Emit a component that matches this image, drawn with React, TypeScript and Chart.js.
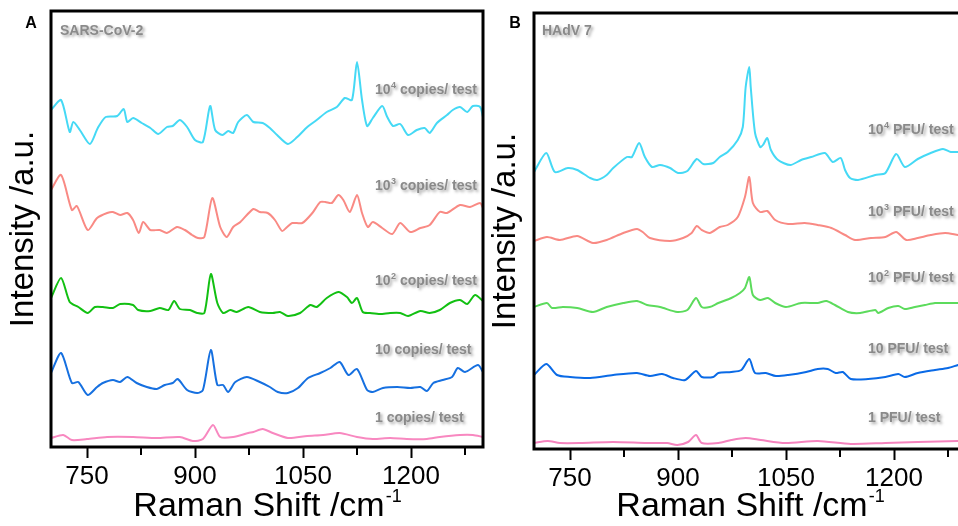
import React, { useEffect, useRef } from "react";
import { Chart, registerables } from "chart.js";

Chart.register(...registerables);

type Pt = [number, number];

// ---------- Data (Raman shift cm^-1, intensity a.u. offset) ----------
const X_MIN = 700;
const X_MAX = 1300;
const MAJOR_TICKS = [750, 900, 1050, 1200];
const MINOR_TICKS = [825, 975, 1125, 1275];

// Panel A: SARS-CoV-2
const A_1e4: Pt[] = [[700,337],[714,347],[726,315],[731,325],[740,317],[754,303],[765,319],[776,330],[792,331],[801,338],[806,325],[814,329],[826,324],[838,319],[849,313],[861,320],[869,321],[879,327],[889,320],[900,307],[911,305],[921,341],[928,317],[938,312],[946,316],[953,314],[960,325],[972,332],[981,325],[994,324],[1004,319],[1014,312],[1029,303],[1042,310],[1056,320],[1069,327],[1083,335],[1097,340],[1108,349],[1118,347],[1125,385],[1132,347],[1139,321],[1147,329],[1160,341],[1167,330],[1175,321],[1185,323],[1196,312],[1208,317],[1219,319],[1226,314],[1236,324],[1250,332],[1258,337],[1268,340],[1278,335],[1286,341],[1296,340],[1300,330]];
const A_1e3: Pt[] = [[700,257],[714,272],[729,237],[736,241],[751,217],[764,229],[778,234],[786,235],[796,232],[806,234],[814,227],[822,214],[828,225],[838,217],[851,217],[861,214],[875,220],[886,217],[896,212],[904,209],[913,210],[924,249],[935,220],[944,210],[953,220],[963,225],[981,238],[990,235],[1001,234],[1011,227],[1021,216],[1028,220],[1035,224],[1049,224],[1063,234],[1074,245],[1081,245],[1090,244],[1099,252],[1106,247],[1115,235],[1125,252],[1132,234],[1140,220],[1147,225],[1160,219],[1174,213],[1185,224],[1199,215],[1213,219],[1226,222],[1240,235],[1250,234],[1268,242],[1282,240],[1296,244],[1300,239]];
const A_1e2: Pt[] = [[700,149],[714,169],[726,145],[738,140],[751,134],[761,140],[772,140],[786,139],[796,143],[814,142],[821,137],[838,136],[851,139],[863,137],[871,146],[879,138],[893,137],[903,134],[913,134],[922,173],[931,144],[939,134],[949,137],[958,135],[974,140],[990,135],[1008,134],[1018,135],[1029,131],[1046,134],[1060,142],[1069,140],[1083,149],[1099,155],[1111,150],[1118,144],[1125,149],[1133,135],[1143,134],[1157,133],[1171,134],[1185,134],[1196,131],[1213,136],[1226,134],[1240,137],[1254,144],[1268,147],[1278,143],[1289,152],[1300,146]];
const A_1e1: Pt[] = [[700,74],[714,94],[729,64],[738,65],[751,52],[764,60],[772,64],[786,67],[796,65],[806,70],[819,64],[833,60],[847,58],[858,62],[869,64],[876,68],[889,57],[903,54],[911,57],[922,97],[931,62],[939,62],[946,55],[956,65],[972,70],[990,65],[1004,60],[1015,55],[1029,54],[1043,59],[1057,69],[1074,74],[1088,79],[1101,85],[1113,72],[1125,78],[1139,57],[1147,55],[1161,59],[1181,60],[1199,59],[1213,60],[1222,56],[1231,64],[1244,67],[1257,70],[1265,79],[1275,75],[1293,82],[1300,75]];
const A_1e0: Pt[] = [[700,9],[717,12],[729,7],[750,8],[778,10],[814,10],[847,9],[879,10],[897,6],[911,8],[925,22],[935,10],[953,10],[974,14],[981,15],[994,18],[1008,14],[1029,9],[1056,11],[1078,12],[1101,14],[1125,10],[1147,8],[1171,9],[1194,8],[1222,8],[1240,10],[1268,12],[1286,12],[1300,10]];

// Panel B: HAdV 7
const B_1e4: Pt[] = [[700,277],[717,296],[729,277],[747,281],[760,279],[778,271],[788,269],[801,274],[810,281],[829,292],[836,292],[846,306],[854,292],[864,282],[875,284],[889,281],[900,276],[913,278],[926,290],[935,285],[949,286],[958,292],[969,297],[983,309],[990,322],[994,362],[999,382],[1001,362],[1007,316],[1014,302],[1018,304],[1024,311],[1029,299],[1039,289],[1056,284],[1071,289],[1085,292],[1104,296],[1115,287],[1126,291],[1132,279],[1139,271],[1150,269],[1174,274],[1188,276],[1203,295],[1215,282],[1233,290],[1251,296],[1268,300],[1279,297],[1289,297],[1300,296]];
const B_1e3: Pt[] = [[700,208],[718,212],[736,209],[760,213],[782,206],[801,209],[824,216],[843,220],[851,217],[861,211],[889,208],[907,211],[919,216],[926,223],[933,219],[944,216],[958,222],[969,224],[983,232],[993,252],[999,272],[1004,246],[1014,237],[1024,238],[1035,229],[1053,225],[1076,226],[1094,224],[1113,221],[1132,214],[1146,209],[1168,211],[1188,212],[1203,217],[1217,209],[1233,211],[1251,214],[1271,216],[1289,214],[1300,213]];
const B_1e2: Pt[] = [[700,142],[718,146],[725,141],[740,142],[760,141],[782,137],[801,142],[824,146],[843,148],[857,144],[875,142],[899,137],[913,139],[925,151],[933,142],[944,142],[956,146],[974,151],[986,156],[993,161],[999,172],[1004,154],[1014,149],[1025,151],[1035,146],[1050,142],[1071,146],[1094,146],[1106,148],[1118,144],[1136,137],[1153,136],[1174,139],[1178,136],[1192,141],[1206,143],[1215,140],[1229,142],[1243,144],[1257,146],[1275,146],[1289,146],[1300,147]];
const B_1e1: Pt[] = [[700,74],[717,85],[732,74],[750,72],[778,71],[810,74],[843,76],[861,73],[878,75],[893,71],[910,69],[925,78],[933,72],[949,72],[956,76],[974,77],[988,79],[999,90],[1007,76],[1022,76],[1036,73],[1053,74],[1078,77],[1094,80],[1108,80],[1119,76],[1129,77],[1140,70],[1164,70],[1188,72],[1206,75],[1215,72],[1233,76],[1257,79],[1275,81],[1289,84],[1300,86]];
const B_1e0: Pt[] = [[700,6],[719,8],[736,6],[764,6],[810,7],[857,6],[885,6],[899,4],[914,7],[925,14],[933,6],[956,6],[974,9],[994,11],[1015,9],[1049,6],[1094,8],[1140,5],[1188,6],[1233,7],[1289,8],[1300,8]];

// Labels
const A_TITLE = "SARS-CoV-2";
const B_TITLE = "HAdV 7";
const LABEL_BASES = ["10", "10", "10", "10", "1"];
const LABEL_EXPS = ["4", "3", "2", "", ""];
const A_UNIT = " copies/ test";
const B_UNIT = " PFU/ test";

const FONT = '"Liberation Sans", Arial, Helvetica, sans-serif';

interface PanelSpec {
  letter: string;
  title: string;
  unit: string;
  series: Pt[][];
  colors: string[];
  canvasLeft: number;
  canvasWidth: number;
  padding: { left: number; right: number; top: number; bottom: number };
  yTitleX: number;
  letterX: number;
  titleX: number;
  labelX: number;
  labelYs: number[];
}

const PANELS: PanelSpec[] = [
  {
    letter: "A",
    title: A_TITLE,
    unit: A_UNIT,
    series: [A_1e4, A_1e3, A_1e2, A_1e1, A_1e0],
    colors: ["#45D9F5", "#F98A84", "#12C012", "#1670E0", "#F888C0"],
    canvasLeft: 0,
    canvasWidth: 500,
    padding: { left: 51, right: 17, top: 11, bottom: 39 },
    yTitleX: 24,
    letterX: 31,
    titleX: 60,
    labelX: 375,
    labelYs: [90, 186, 281, 350, 418],
  },
  {
    letter: "B",
    title: B_TITLE,
    unit: B_UNIT,
    series: [B_1e4, B_1e3, B_1e2, B_1e1, B_1e0],
    colors: ["#45D9F5", "#F98A84", "#5CDB5C", "#0A6AE6", "#F583BE"],
    canvasLeft: 490,
    canvasWidth: 520,
    padding: { left: 44, right: 44, top: 13, bottom: 37 },
    yTitleX: 16,
    letterX: 25,
    titleX: 52,
    labelX: 378,
    labelYs: [130, 212, 278, 349, 418],
  },
];

function decorPlugin(spec: PanelSpec) {
  return {
    id: "decor" + spec.letter,
    afterDraw(chart: any) {
      const { ctx, chartArea: ca, scales } = chart;
      const xs = scales.x;
      ctx.save();
      // frame
      ctx.strokeStyle = "#000";
      ctx.lineWidth = 3;
      ctx.strokeRect(ca.left, ca.top, ca.right - ca.left, ca.bottom - ca.top);
      // minor ticks
      ctx.lineWidth = 2;
      for (const v of MINOR_TICKS) {
        const px = xs.getPixelForValue(v);
        ctx.beginPath();
        ctx.moveTo(px, ca.bottom);
        ctx.lineTo(px, ca.bottom + 8);
        ctx.stroke();
      }
      // y title
      ctx.save();
      ctx.translate(spec.yTitleX, (ca.top + ca.bottom) / 2);
      ctx.rotate(-Math.PI / 2);
      ctx.font = `33px ${FONT}`;
      ctx.textAlign = "center";
      ctx.textBaseline = "middle";
      ctx.fillStyle = "#000";
      ctx.fillText("Intensity /a.u.", 0, 0);
      ctx.restore();
      // x title with superscript
      const main = "Raman Shift /cm";
      const sup = "-1";
      ctx.font = `34px ${FONT}`;
      const w1 = ctx.measureText(main).width;
      ctx.font = `18px ${FONT}`;
      const w2 = ctx.measureText(sup).width;
      const cx = (ca.left + ca.right) / 2;
      const x0 = cx - (w1 + w2) / 2;
      ctx.fillStyle = "#000";
      ctx.textAlign = "left";
      ctx.textBaseline = "alphabetic";
      ctx.font = `34px ${FONT}`;
      ctx.fillText(main, x0, 516);
      ctx.font = `18px ${FONT}`;
      ctx.fillText(sup, x0 + w1 + 1, 502);
      // panel letter
      ctx.font = `bold 16px ${FONT}`;
      ctx.textAlign = "center";
      ctx.textBaseline = "middle";
      ctx.fillText(spec.letter, spec.letterX, 24);
      // shadowed gray texts
      ctx.shadowColor = "rgba(0,0,0,0.35)";
      ctx.shadowBlur = 3;
      ctx.shadowOffsetX = 2;
      ctx.shadowOffsetY = 2;
      ctx.fillStyle = "#8a8a8a";
      ctx.textAlign = "left";
      ctx.font = `bold 14px ${FONT}`;
      ctx.fillText(spec.title, spec.titleX, 31);
      for (let i = 0; i < LABEL_BASES.length; i++) {
        let x = spec.labelX;
        const y = spec.labelYs[i];
        ctx.font = `bold 14px ${FONT}`;
        ctx.fillText(LABEL_BASES[i], x, y);
        x += ctx.measureText(LABEL_BASES[i]).width;
        if (LABEL_EXPS[i]) {
          ctx.font = `bold 9px ${FONT}`;
          ctx.fillText(LABEL_EXPS[i], x + 0.5, y - 4);
          x += ctx.measureText(LABEL_EXPS[i]).width + 0.5;
        }
        ctx.font = `bold 14px ${FONT}`;
        ctx.fillText(spec.unit, x, y);
      }
      ctx.restore();
    },
  };
}

function Panel({ spec }: { spec: PanelSpec }) {
  const ref = useRef<HTMLCanvasElement>(null);
  useEffect(() => {
    if (!ref.current) return;
    const chart = new Chart(ref.current, {
      type: "line",
      data: {
        datasets: spec.series.map((s, i) => ({
          data: s.map(([x, y]) => ({ x, y })),
          borderColor: spec.colors[i],
          borderWidth: 2,
          pointRadius: 0,
          fill: false,
          tension: 0.25,
        })),
      },
      options: {
        responsive: false,
        animation: false,
        devicePixelRatio: 1,
        layout: { padding: spec.padding },
        plugins: { legend: { display: false }, tooltip: { enabled: false } },
        scales: {
          x: {
            type: "linear",
            min: X_MIN,
            max: X_MAX,
            afterBuildTicks: (scale: any) => {
              scale.ticks = MAJOR_TICKS.map((v) => ({ value: v }));
            },
            afterFit: (scale: any) => {
              scale.height = 40;
            },
            border: { display: false },
            grid: {
              display: true,
              drawOnChartArea: false,
              drawTicks: true,
              tickLength: 11,
              tickWidth: 2,
              tickColor: "#000",
            },
            ticks: {
              color: "#000",
              padding: 3,
              maxRotation: 0,
              autoSkip: false,
              font: { size: 26, family: FONT },
              callback: (v: any) => String(v),
            },
          },
          y: {
            type: "linear",
            display: false,
            min: 0,
            max: 436,
          },
        },
      },
      plugins: [decorPlugin(spec)],
    } as any);
    return () => chart.destroy();
  }, [spec]);
  return (
    <canvas
      ref={ref}
      width={spec.canvasWidth}
      height={526}
      style={{ position: "absolute", left: spec.canvasLeft, top: 0, width: spec.canvasWidth, height: 526 }}
    />
  );
}

export default function App() {
  return (
    <div
      style={{
        position: "fixed",
        left: 0,
        top: 0,
        width: 958,
        height: 526,
        overflow: "hidden",
        background: "#fff",
      }}
    >
      {PANELS.map((p) => (
        <Panel key={p.letter} spec={p} />
      ))}
    </div>
  );
}
